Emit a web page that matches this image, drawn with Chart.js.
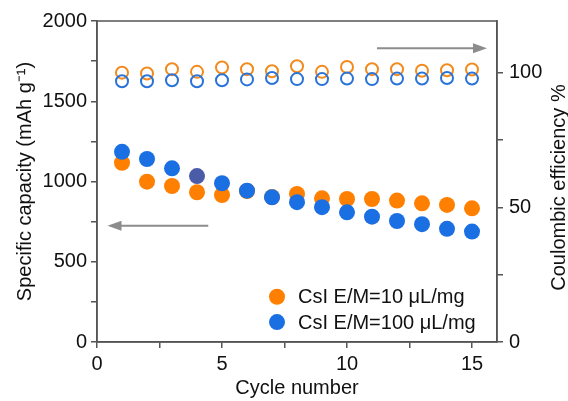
<!DOCTYPE html>
<html>
<head>
<meta charset="utf-8">
<script src="https://cdn.jsdelivr.net/npm/chart.js@4.4.0/dist/chart.umd.min.js"></script>
<style>
  body { margin: 0; background: #fff; }
  #wrap { width: 568px; height: 401px; }
</style>
</head>
<body>
<div id="wrap"><canvas id="myChart" width="568" height="401"></canvas></div>
<script>
// data
var cycles = [1, 2, 3, 4, 5, 6, 7, 8, 9, 10, 11, 12, 13, 14, 15];
var capLow  = [1117, 999, 972, 933, 916, 941, 903, 922, 895, 891, 891, 881, 864, 854, 833];   // E/M=10
var capHigh = [1185, 1140, 1082, 1034, 989, 943, 902, 871, 840, 808, 781, 754, 734, 705, 688]; // E/M=100
var ceLow  = [100.1, 99.8, 101.4, 100.4, 102.0, 101.4, 100.6, 102.5, 100.4, 102.2, 101.4, 101.4, 100.8, 101.0, 101.3];
var ceHigh = [96.9, 96.9, 97.3, 96.9, 97.3, 97.6, 98.1, 97.7, 97.7, 97.9, 97.7, 97.9, 97.9, 98.1, 97.9];
var seriesNames = ['CsI E/M=10 μL/mg', 'CsI E/M=100 μL/mg'];
var capTicks = [0, 250, 500, 750, 1000, 1250, 1500, 1750, 2000];
var ceTicks = [0, 25, 50, 75, 100];
var cycleTicks = [0, 2.5, 5, 7.5, 10, 12.5, 15];

var ORANGE = '#ff8000';
var BLUE = '#1a6fe3';
var FONT = { family: "'Liberation Sans', Arial, sans-serif", size: 20 };

function pts(ys) {
  return cycles.map(function(c, i) { return { x: c, y: ys[i] }; });
}

var blueFill = cycles.map(function(c) { return c === 4 ? '#4a5ba8' : BLUE; });

// frame, arrows, legend, right title
var extras = {
  id: 'extras',
  afterDraw: function(chart) {
    var ctx = chart.ctx, a = chart.chartArea;
    var x = chart.scales.x, y = chart.scales.y;
    ctx.save();
    ctx.strokeStyle = '#555';
    ctx.lineWidth = 1.5;
    ctx.strokeRect(a.left, a.top, a.right - a.left, a.bottom - a.top);

    function arrow(x0, x1, yv) {
      var px0 = x.getPixelForValue(x0), px1 = x.getPixelForValue(x1), py = y.getPixelForValue(yv);
      var dir = px1 > px0 ? 1 : -1;
      ctx.strokeStyle = '#8c8c8c';
      ctx.fillStyle = '#8c8c8c';
      ctx.lineWidth = 2;
      ctx.beginPath();
      ctx.moveTo(px0, py);
      ctx.lineTo(px1 - dir * 10, py);
      ctx.stroke();
      ctx.beginPath();
      ctx.moveTo(px1, py);
      ctx.lineTo(px1 - dir * 14, py - 5);
      ctx.lineTo(px1 - dir * 14, py + 5);
      ctx.closePath();
      ctx.fill();
    }
    arrow(11.2, 15.6, 1830);
    arrow(4.45, 0.42, 725);

    // legend
    var lx = x.getPixelForValue(7.2);
    var ly = [y.getPixelForValue(282), y.getPixelForValue(124)];
    var cols = [ORANGE, BLUE];
    ctx.font = FONT.size + 'px ' + FONT.family;
    ctx.textBaseline = 'middle';
    ctx.textAlign = 'left';
    for (var i = 0; i < 2; i++) {
      ctx.fillStyle = cols[i];
      ctx.beginPath();
      ctx.arc(lx, ly[i], 8, 0, Math.PI * 2);
      ctx.fill();
      ctx.fillStyle = '#111';
      ctx.fillText(seriesNames[i], lx + 21, ly[i] + 1);
    }

    // right axis title (reads bottom to top)
    ctx.translate(559, (a.top + a.bottom) / 2 + 6);
    ctx.rotate(-Math.PI / 2);
    ctx.textAlign = 'center';
    ctx.fillText('Coulombic efficiency %', 0, 0);
    ctx.restore();
  }
};

var ctx = document.getElementById('myChart').getContext('2d');
var chart = new Chart(ctx, {
  type: 'scatter',
  data: {
    datasets: [
      { label: 'ceHigh', data: pts(ceHigh), yAxisID: 'y1', pointRadius: 6, pointBorderWidth: 2,
        pointBackgroundColor: 'rgba(0,0,0,0)', pointBorderColor: '#2a73d8' },
      { label: 'ceLow', data: pts(ceLow), yAxisID: 'y1', pointRadius: 6, pointBorderWidth: 2,
        pointBackgroundColor: 'rgba(0,0,0,0)', pointBorderColor: '#f28a1c' },
      { label: seriesNames[1], data: pts(capHigh), yAxisID: 'y', pointRadius: 8, pointBorderWidth: 0,
        pointBackgroundColor: blueFill },
      { label: seriesNames[0], data: pts(capLow), yAxisID: 'y', pointRadius: 8, pointBorderWidth: 0,
        pointBackgroundColor: ORANGE }
    ]
  },
  options: {
    responsive: false,
    animation: false,
    layout: { padding: { top: 21, right: 0, left: 0, bottom: 0 } },
    plugins: { legend: { display: false }, tooltip: { enabled: false } },
    scales: {
      x: {
        type: 'linear', min: 0, max: 16,
        afterBuildTicks: function(s) { s.ticks = cycleTicks.map(function(v) { return { value: v }; }); },
        afterFit: function(s) { s.height = 59; },
        grid: { drawOnChartArea: false, tickLength: 6, color: '#555', lineWidth: 1.5 },
        border: { color: '#555', width: 1.5 },
        ticks: { font: FONT, color: '#111', padding: 4, maxRotation: 0,
          callback: function(v) { return v % 5 === 0 ? v : ''; } },
        title: { display: true, text: 'Cycle number', font: FONT, color: '#111', padding: { top: 0, bottom: 1 } }
      },
      y: {
        position: 'left', min: 0, max: 2000,
        afterBuildTicks: function(s) { s.ticks = capTicks.map(function(v) { return { value: v }; }); },
        afterFit: function(s) { s.width = 97; },
        grid: { drawOnChartArea: false, tickLength: 6, color: '#555', lineWidth: 1.5 },
        border: { color: '#555', width: 1.5 },
        ticks: { font: FONT, color: '#111', padding: 4,
          callback: function(v) { return v % 500 === 0 ? v : ''; } },
        title: { display: true, text: 'Specific capacity (mAh g⁻¹)', font: FONT, color: '#111', padding: { top: 13, bottom: 0 } }
      },
      y1: {
        position: 'right', min: 0, max: 119.3,
        afterBuildTicks: function(s) { s.ticks = ceTicks.map(function(v) { return { value: v }; }); },
        afterFit: function(s) { s.width = 71; },
        grid: { drawOnChartArea: false, tickLength: 6, color: '#555', lineWidth: 1.5 },
        border: { color: '#555', width: 1.5 },
        ticks: { font: FONT, color: '#111', padding: 6,
          callback: function(v) { return v % 50 === 0 ? v : ''; } }
      }
    }
  },
  plugins: [extras]
});
</script>
</body>
</html>
